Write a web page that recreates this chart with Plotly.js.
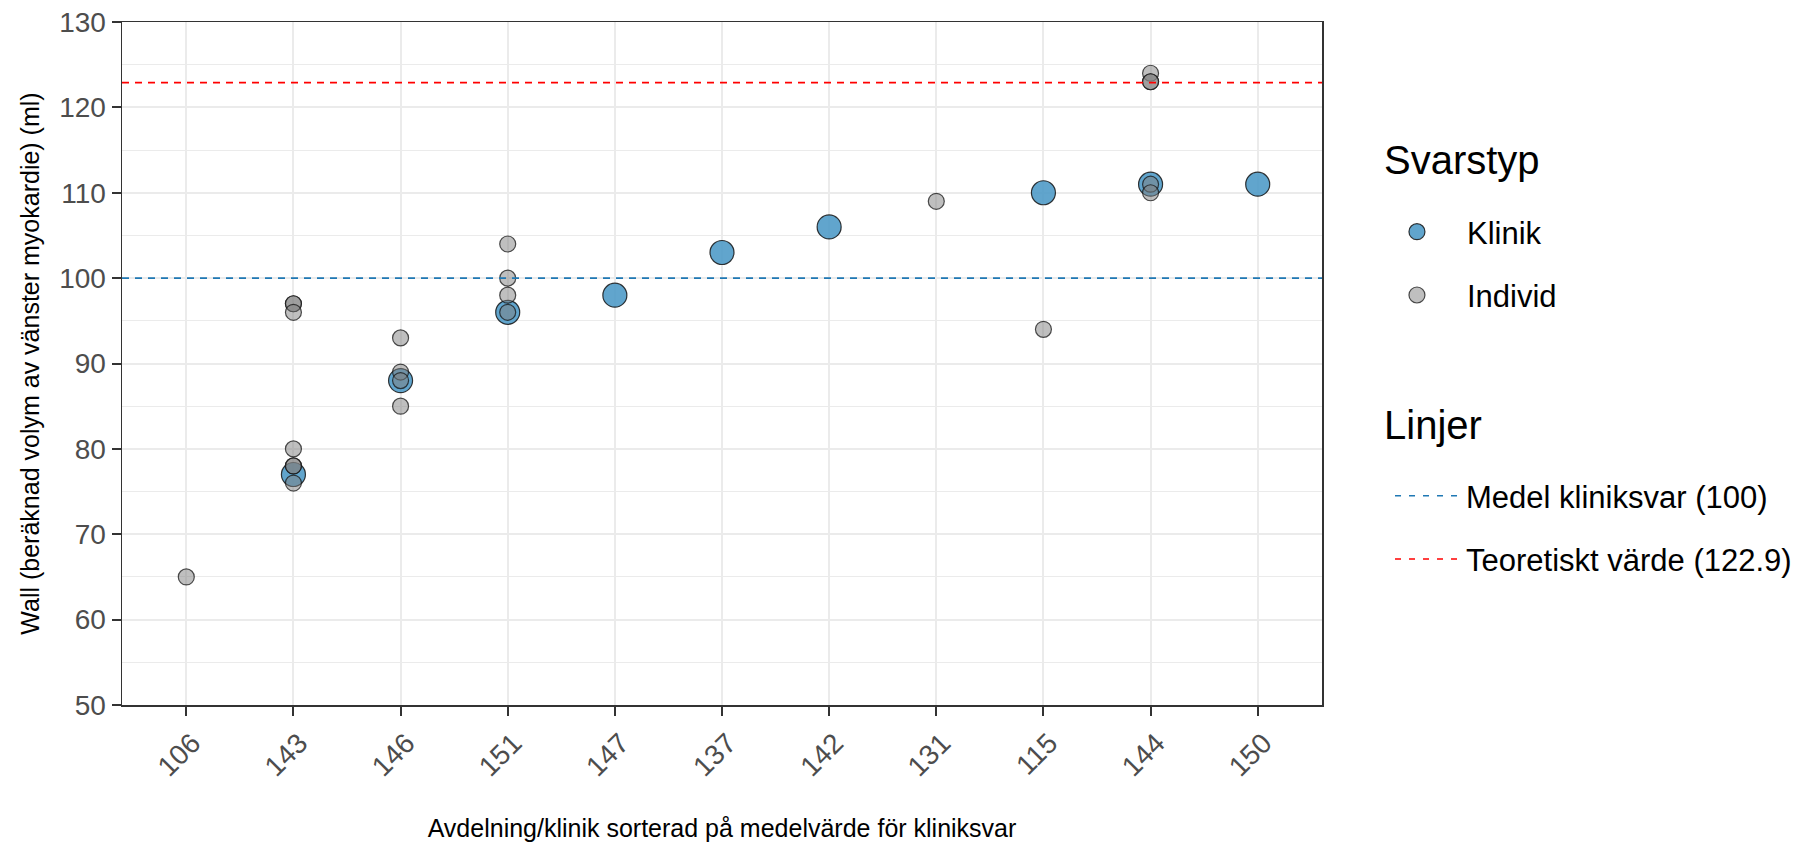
<!DOCTYPE html>
<html>
<head>
<meta charset="utf-8">
<script src="https://cdn.plot.ly/plotly-3.0.1.min.js"></script>
<style>html,body{margin:0;padding:0;background:#fff;}#chart{width:1808px;height:845px;}</style>
</head>
<body>
<div id="chart"></div>
<script>
// Categories (clinic IDs sorted by clinic mean)
const categories = ['106','143','146','151','147','137','142','131','115','144','150'];

// Clinic answers (Klinik)
const klinikClinic = ['143','146','151','147','137','142','115','144','150'];
const klinikValue  = [77, 88, 96, 98, 103, 106, 110, 111, 111];

// Individual answers (Individ)
const individClinic = ['106','143','143','143','143','143','143','143','146','146','146','146','151','151','151','151','131','115','144','144','144','144','144'];
const individValue  = [65, 97, 97, 96, 80, 78, 78, 76, 93, 89, 88, 85, 104, 100, 98, 96, 109, 94, 124, 123, 123, 111, 110];

// Reference lines
const lineNames  = ['Medel kliniksvar (100)', 'Teoretiskt värde (122.9)'];
const lineValues = [100, 122.9];
const lineColors = ['#1f78b4', '#ff0000'];

// Legend titles
const legendTitles = ['Svarstyp', 'Linjer'];

const FONT = 'Liberation Sans, Arial, sans-serif';

const traces = [
  {
    type: 'scatter', mode: 'markers', name: 'Klinik',
    x: klinikClinic, y: klinikValue,
    marker: {size: 24, color: 'rgba(80,155,200,0.9)', line: {color: 'rgba(20,20,20,0.85)', width: 1.2}},
    legend: 'legend', legendgroup: 'k', hoverinfo: 'x+y'
  },
  {
    type: 'scatter', mode: 'markers', name: 'Individ',
    x: individClinic, y: individValue,
    marker: {size: 16, color: 'rgba(127,127,127,0.5)', line: {color: 'rgba(20,20,20,0.75)', width: 1.2}},
    legend: 'legend', legendgroup: 'i', hoverinfo: 'x+y'
  }
];
lineNames.forEach((n, i) => {
  traces.push({
    type: 'scatter', mode: 'lines', name: n,
    x: [null], y: [null],
    line: {color: lineColors[i], dash: '6px,8px', width: 1.5},
    legend: 'legend2', legendgroup: 'l' + i, hoverinfo: 'skip'
  });
});

const shapes = lineValues.map((v, i) => ({
  type: 'line', xref: 'paper', x0: 0, x1: 1, yref: 'y', y0: v, y1: v,
  layer: 'above',
  line: {color: lineColors[i], dash: '7px,6px', width: 1.6}
}));

const annotations = [
  {text: legendTitles[0], xref: 'paper', yref: 'paper', x: 1.05, y: 0.798, xanchor: 'left', yanchor: 'middle',
   showarrow: false, font: {family: FONT, size: 40, color: '#000'}},
  {text: legendTitles[1], xref: 'paper', yref: 'paper', x: 1.05, y: 0.41, xanchor: 'left', yanchor: 'middle',
   showarrow: false, font: {family: FONT, size: 40, color: '#000'}}
];

const layout = {
  width: 1808, height: 845,
  paper_bgcolor: '#ffffff', plot_bgcolor: '#ffffff',
  margin: {l: 122, r: 485, t: 22, b: 140},
  font: {family: FONT, color: '#000'},
  showlegend: true,
  xaxis: {
    type: 'category', categoryorder: 'array', categoryarray: categories,
    range: [-0.6, categories.length - 0.4],
    showgrid: true, gridcolor: '#ebebeb', gridwidth: 2,
    showline: true, linecolor: '#333333', linewidth: 1.5, mirror: true,
    ticks: 'outside', ticklen: 9, tickwidth: 2, tickcolor: '#333333',
    tickangle: -45, ticklabelshift: 6,
    tickfont: {family: FONT, size: 28, color: '#4d4d4d'},
    zeroline: false, automargin: false,
    title: {text: 'Avdelning/klinik sorterad på medelvärde för kliniksvar', font: {family: FONT, size: 25, color: '#000'}, standoff: 38}
  },
  yaxis: {
    range: [50, 130], dtick: 10, tick0: 50,
    showgrid: true, gridcolor: '#ebebeb', gridwidth: 2,
    minor: {dtick: 5, showgrid: true, gridcolor: '#ebebeb', gridwidth: 1, ticks: ''},
    showline: true, linecolor: '#333333', linewidth: 1.5, mirror: true,
    ticks: 'outside', ticklen: 9, tickwidth: 2, tickcolor: '#333333',
    tickfont: {family: FONT, size: 28, color: '#4d4d4d'},
    zeroline: false, automargin: false,
    title: {text: 'Wall (beräknad volym av vänster myokardie) (ml)', font: {family: FONT, size: 25, color: '#000'}, standoff: 12}
  },
  shapes: shapes,
  annotations: annotations,
  legend: {
    x: 1.0366, xanchor: 'left', y: 0.732, yanchor: 'top',
    font: {family: FONT, size: 31, color: '#000'},
    itemwidth: 90, tracegroupgap: 20, traceorder: 'grouped',
    bgcolor: 'rgba(0,0,0,0)', borderwidth: 0
  },
  legend2: {
    x: 1.0558, xanchor: 'left', y: 0.3455, yanchor: 'top',
    font: {family: FONT, size: 31, color: '#000'},
    itemwidth: 66, tracegroupgap: 20, traceorder: 'grouped',
    bgcolor: 'rgba(0,0,0,0)', borderwidth: 0
  }
};

Plotly.newPlot('chart', traces, layout, {displayModeBar: false, staticPlot: true});
</script>
</body>
</html>
